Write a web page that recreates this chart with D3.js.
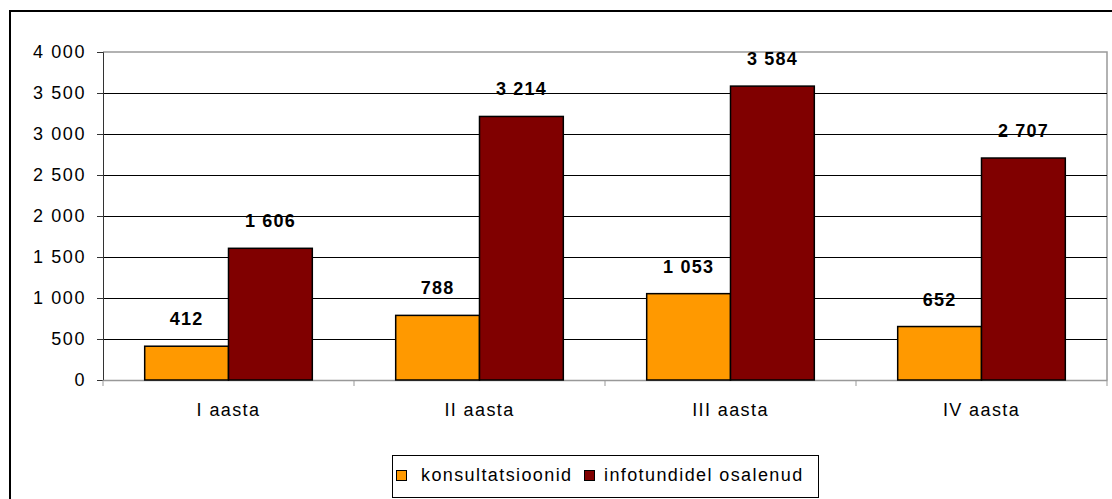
<!DOCTYPE html>
<html><head><meta charset="utf-8">
<script src="https://cdn.jsdelivr.net/npm/d3@7/dist/d3.min.js"></script>
<style>body{margin:0;background:#fff}svg{display:block}text{font-family:Arial,"Liberation Sans",sans-serif}</style>
</head><body>
<svg id="c" width="1112" height="499"></svg>
<script>
const categories = ["I aasta", "II aasta", "III aasta", "IV aasta"];
const seriesNames = ["konsultatsioonid", "infotundidel osalenud"];
const konsultatsioonid = [412, 788, 1053, 652];
const infotundidel = [1606, 3214, 3584, 2707];
const yTicks = [0, 500, 1000, 1500, 2000, 2500, 3000, 3500, 4000];
const colors = ["#FF9900", "#800000"];

const svg = d3.select("#c");
const fmt = v => d3.format(",")(v).replace(/,/g, " ");
const FF = "Arial, 'Liberation Sans', sans-serif";
const LS = 1.4;

// outer frame
svg.append("rect").attr("x", 10).attr("y", 11).attr("width", 1120).attr("height", 500)
  .attr("fill", "none").attr("stroke", "#000").attr("stroke-width", 2);

const L = 103, R = 1107, T = 52, B = 380;
const x = d3.scaleBand().domain(categories).range([L, R]).paddingInner(0).paddingOuter(0);
const y = d3.scaleLinear().domain([0, 4000]).range([B, T]);
const xs = d3.scaleBand().domain(seriesNames).range([0, x.bandwidth()]).paddingInner(0).paddingOuter(0.4975);

// plot area frame (gray top/right)
svg.append("path").attr("d", `M${L},${T}H${R}V${B}`).attr("fill", "none").attr("stroke", "#999").attr("stroke-width", 1.5);

// gridlines
svg.append("g").selectAll("line").data(yTicks.filter(t => t > 0 && t < 4000)).join("line")
  .attr("x1", L).attr("x2", R).attr("y1", d => Math.round(y(d)) + 0.5).attr("y2", d => Math.round(y(d)) + 0.5)
  .attr("stroke", "#000").attr("stroke-width", 1);

// y axis
const ya = svg.append("g").attr("transform", `translate(${L},0)`)
  .call(d3.axisLeft(y).tickValues(yTicks).tickSize(6).tickPadding(11).tickFormat(fmt));
ya.attr("font-size", null).attr("font-family", null);
ya.select(".domain").attr("stroke", "#333");
ya.selectAll("line").attr("stroke", "#333");
ya.selectAll("text").attr("font-size", 18).attr("fill", "#000").attr("font-family", FF).style("letter-spacing", "1.6px");

// x axis
const xa = svg.append("g").attr("transform", `translate(0,${B})`)
  .call(d3.axisBottom(x).tickSize(0).tickPadding(23));
xa.attr("font-size", null).attr("font-family", null);
xa.select(".domain").attr("stroke", "#999").attr("stroke-width", 1.5);
xa.selectAll("text").attr("font-size", 18).attr("fill", "#000").attr("font-family", FF).style("letter-spacing", LS + "px");
// tick marks between categories
svg.append("g").selectAll("line").data(categories.concat(["end"])).join("line")
  .attr("x1", (d, i) => L + i * x.bandwidth()).attr("x2", (d, i) => L + i * x.bandwidth())
  .attr("y1", B).attr("y2", B + 6).attr("stroke", "#999");

const data = categories.map((c, i) => ({c, vals: [konsultatsioonid[i], infotundidel[i]]}));
const g = svg.append("g").selectAll("g").data(data).join("g").attr("transform", d => `translate(${x(d.c)},0)`);
g.selectAll("rect").data(d => d.vals.map((v, j) => ({v, s: seriesNames[j], j}))).join("rect")
  .attr("x", d => xs(d.s)).attr("width", xs.bandwidth())
  .attr("y", d => y(d.v)).attr("height", d => B - y(d.v))
  .attr("fill", d => colors[d.j]).attr("stroke", "#000").attr("stroke-width", 1.5);
g.selectAll("text").data(d => d.vals.map((v, j) => ({v, s: seriesNames[j], j}))).join("text")
  .attr("x", d => xs(d.s) + xs.bandwidth() / 2).attr("y", d => y(d.v) - 21)
  .attr("text-anchor", "middle").attr("font-size", 18).attr("font-weight", "bold")
  .style("letter-spacing", "1.2px").text(d => fmt(d.v));

// legend
const lg = svg.append("g");
lg.append("rect").attr("x", 392.5).attr("y", 455.5).attr("width", 426).attr("height", 42)
  .attr("fill", "#fff").attr("stroke", "#000").attr("stroke-width", 1);
const items = [{x: 396, tx: 421}, {x: 584, tx: 604}];
seriesNames.forEach((s, i) => {
  lg.append("rect").attr("x", items[i].x + 0.5).attr("y", 470.5).attr("width", 10).attr("height", 10)
    .attr("fill", colors[i]).attr("stroke", "#000").attr("stroke-width", 1);
  lg.append("text").attr("x", items[i].tx).attr("y", 481).attr("font-size", 18)
    .style("letter-spacing", LS + "px").text(s);
});
</script>
</body></html>
